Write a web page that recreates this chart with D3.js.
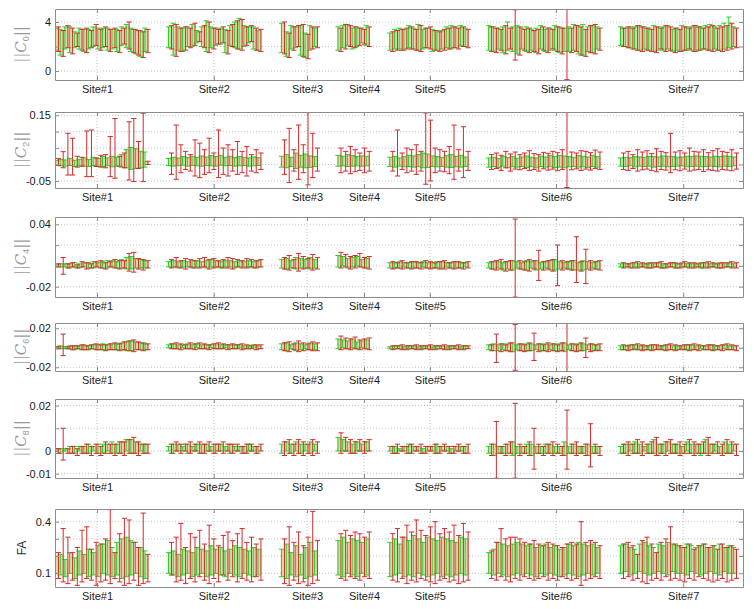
<!DOCTYPE html>
<html><head><meta charset="utf-8">
<script src="https://cdn.jsdelivr.net/npm/d3@7"></script>
<style>body{margin:0;background:#fff}svg{display:block}</style>
</head><body>
<script>
// ---------------- DATA ----------------
const sites = ["Site#1","Site#2","Site#3","Site#4","Site#5","Site#6","Site#7"];
const siteSizes = [20,20,8,7,17,24,25];
const siteTicks = [8.5,33.3,53.1,65.2,79.2,106,133]; // subject-slot positions of site ticks

// ||C0|| (x0.1)
const c0RedHi = [36,33,37,35,31,34,35,33,38,34,36,34,35,33,35,40,34,33,32,34,
 37,38,35,36,35,39,32,37,40,35,34,36,33,38,41,42,36,37,35,34,
 40,31,36,37,38,30,36,36,
 35,38,37,36,35,34,36,
 32,33,34,35,36,34,37,35,36,33,32,34,35,36,35,36,34,
 36,35,34,37,35,50,36,34,35,33,34,36,35,34,36,35,51,35,37,36,34,37,38,35,
 35,36,35,37,36,35,34,36,35,37,36,35,34,36,35,37,36,35,36,37,35,36,37,39,35];
const c0RedLo = [16,12,19,14,20,17,15,19,21,17,20,16,19,15,22,18,15,13,11,15,
 18,12,16,17,19,21,24,19,15,18,22,23,14,20,18,17,21,24,17,16,
 14,11,17,20,12,10,18,19,
 16,18,20,19,21,22,20,
 16,17,17,18,18,17,16,19,18,17,16,17,18,19,18,20,19,
 16,15,17,14,18,9,13,17,15,16,14,17,15,18,16,14,-7,15,16,13,12,15,14,17,
 20,19,18,17,16,17,16,15,18,16,17,15,16,17,18,16,17,18,17,16,17,16,17,18,19];
const c0GreenHi = [35,34,36,36,32,35,34,34,36,35,35,35,34,34,36,38,35,34,33,35,
 36,39,36,35,36,38,33,36,41,36,35,35,34,37,40,43,37,36,36,33,
 39,32,37,36,37,31,37,35,
 36,37,38,35,36,35,37,
 31,34,35,34,37,35,38,34,35,34,33,33,36,37,36,37,35,
 37,36,35,36,40,36,37,35,36,34,35,37,34,35,37,36,35,36,38,37,38,36,37,36,
 36,35,36,36,37,36,35,37,36,36,37,34,35,37,36,36,37,36,37,38,36,37,39,44,36];
const c0GreenLo = [17,13,18,15,19,18,16,18,20,18,19,17,18,16,21,19,16,14,12,16,
 19,13,17,16,20,20,23,20,16,19,21,22,15,21,19,18,20,23,18,17,
 15,12,18,19,13,11,17,20,
 17,19,21,18,20,23,21,
 17,18,18,17,19,18,17,18,19,16,17,18,19,18,19,21,20,
 17,16,18,15,17,16,14,18,16,17,15,18,16,17,17,15,16,16,17,14,13,16,15,18,
 21,20,19,18,17,18,17,16,17,17,18,16,17,16,17,17,16,17,18,17,18,17,18,19,20];

// ||C2|| (x0.001)
const c2RedHi = [18,39,95,80,25,22,102,105,20,28,30,85,140,25,35,130,140,70,156,10,
 35,120,60,40,30,75,65,45,80,35,105,50,60,45,70,40,55,30,45,35,
 75,110,45,120,60,158,95,50,
 50,40,55,45,35,50,40,
 40,105,35,50,45,60,40,157,135,50,45,40,55,120,45,115,40,
 30,35,28,40,32,38,30,35,42,33,30,37,34,40,36,45,158,38,35,42,40,36,44,38,
 35,40,30,45,38,42,33,48,40,36,95,38,42,35,50,40,38,45,36,42,48,40,37,45,35];
const c2RedLo = [-3,-10,-32,-32,-8,-5,-37,-37,-6,-8,-10,-37,-42,-5,-10,-47,-52,-12,-52,0,
 -30,-45,-25,-15,-20,-35,-40,-30,-25,-15,-40,-30,-35,-20,-30,-25,-35,-20,-25,-15,
 -30,-55,-20,-45,-25,-62,-40,-20,
 -25,-20,-28,-22,-18,-25,-20,
 -20,-35,-15,-25,-20,-30,-20,-60,-50,-25,-20,-22,-28,-45,-20,-40,-18,
 -15,-12,-18,-10,-20,-14,-16,-12,-18,-15,-20,-13,-17,-14,-19,-15,-70,-16,-13,-18,-14,-17,-12,-15,
 -15,-18,-12,-20,-16,-14,-18,-22,-15,-17,-25,-16,-19,-14,-20,-17,-15,-21,-16,-18,-20,-15,-17,-19,-14];
const c2GreenHi = [12,15,14,18,13,16,20,15,22,18,24,20,25,22,30,45,52,48,40,38,
 18,22,20,24,21,25,22,26,23,27,24,28,22,25,21,24,22,20,23,21,
 25,30,22,35,28,32,26,24,
 28,25,30,27,24,26,25,
 22,25,20,24,28,26,30,35,32,26,24,22,27,30,25,28,23,
 20,22,18,25,21,24,19,23,26,22,20,25,23,27,24,28,26,24,22,27,25,23,28,24,
 20,22,21,24,23,22,25,24,23,26,25,24,22,23,25,24,26,25,24,23,25,24,26,25,23];
const c2GreenLo = [-2,-4,-5,-3,-6,-4,-5,-6,-3,-5,-6,-4,-7,-5,-8,-10,-15,-12,-10,-8,
 -3,-5,-4,-2,-5,-3,-4,-5,-3,-4,-5,-2,-4,-3,-5,-4,-3,-5,-4,-3,
 -8,-10,-6,-12,-8,-10,-9,-6,
 -5,-4,-6,-5,-4,-5,-4,
 -6,-8,-5,-7,-6,-8,-7,-10,-9,-6,-7,-6,-8,-9,-7,-8,-6,
 -8,-6,-9,-5,-10,-7,-8,-6,-9,-7,-10,-6,-8,-7,-9,-8,-10,-7,-6,-8,-7,-9,-6,-8,
 -5,-6,-4,-7,-5,-6,-5,-8,-6,-5,-7,-6,-5,-4,-7,-6,-5,-7,-6,-5,-6,-7,-5,-6,-4];

// ||C4|| (x0.001)
const c4RedHi = [2,8,2,3,1,4,3,2,4,5,3,4,6,5,5,12,13,7,6,5,
 6,8,5,7,6,5,7,8,6,7,5,6,8,7,6,5,7,6,5,6,
 8,10,6,12,9,7,11,8,
 13,11,9,10,12,8,9,
 4,3,5,3,4,4,3,5,4,3,4,5,3,4,4,3,4,
 4,5,6,4,5,45,5,4,6,5,15,4,5,6,20,5,4,5,28,4,16,5,4,5,
 3,2,3,4,3,2,3,3,4,2,3,3,2,4,3,3,2,3,4,3,2,3,3,4,3];
const c4RedLo = [-1,-8,-2,-1,-2,-1,-3,-2,-1,-2,-3,-1,-2,-3,-2,-5,-6,-3,-4,-2,
 -2,-1,-2,-3,-1,-2,-2,-1,-3,-2,-1,-2,-2,-3,-1,-2,-2,-1,-2,-1,
 -3,-4,-2,-5,-3,-2,-4,-3,
 -2,-1,-3,-2,-1,-2,-3,
 -3,-2,-3,-2,-3,-2,-3,-2,-3,-2,-3,-3,-2,-3,-2,-3,-2,
 -3,-4,-3,-5,-4,-30,-3,-4,-5,-3,-14,-4,-3,-5,-19,-4,-3,-4,-16,-5,-17,-4,-3,-4,
 -2,-1,-2,-2,-1,-2,-2,-1,-2,-2,-1,-2,-2,-1,-2,-2,-1,-2,-2,-1,-2,-2,-1,-2,-2];
const c4GreenHi = [1,2,2,2,3,2,3,3,4,3,4,5,5,4,6,8,9,7,6,5,
 4,5,4,5,4,5,5,4,5,6,5,4,5,5,4,5,4,5,4,5,
 6,7,5,8,7,6,8,6,
 10,9,7,8,9,6,7,
 3,3,4,3,3,4,3,4,3,3,4,4,3,3,4,3,3,
 3,4,4,3,4,5,4,3,5,4,5,3,4,5,6,4,3,4,5,3,5,4,3,4,
 2,2,2,3,2,2,3,2,3,2,2,3,2,3,2,2,2,3,3,2,2,3,2,3,2];
const c4GreenLo = [-1,-1,-1,-2,-1,-2,-1,-2,-2,-1,-2,-2,-1,-2,-2,-3,-3,-2,-2,-2,
 -1,-1,-2,-1,-1,-2,-1,-1,-2,-1,-1,-2,-1,-1,-2,-1,-1,-1,-2,-1,
 -2,-3,-2,-3,-2,-2,-3,-2,
 -1,0,-2,-1,0,-1,-2,
 -2,-2,-2,-1,-2,-2,-2,-1,-2,-2,-2,-2,-1,-2,-2,-2,-1,
 -2,-3,-2,-4,-3,-4,-2,-3,-4,-2,-4,-3,-2,-4,-4,-3,-2,-3,-4,-4,-4,-3,-2,-3,
 -1,-1,-2,-1,-1,-1,-2,-1,-1,-2,-1,-1,-2,-1,-1,-1,-1,-2,-1,-1,-1,-2,-1,-1,-1];

// ||C6|| (x0.001)
const c6RedHi = [1,14,1,2,2,3,2,3,4,3,3,4,5,4,6,7,8,6,5,4,
 4,5,4,3,5,4,5,4,3,4,5,4,3,4,3,4,3,2,3,3,
 5,6,4,7,5,4,6,5,
 12,10,9,11,8,9,10,
 2,2,3,2,2,3,2,2,3,2,2,3,2,2,3,2,2,
 3,14,4,3,5,24,4,3,5,15,4,3,5,4,3,5,25,4,3,5,10,4,3,4,
 3,2,3,4,3,2,3,3,2,3,4,3,2,3,3,4,3,2,3,3,2,3,4,3,2];
const c6RedLo = [-1,-8,-1,-2,-1,-2,-2,-1,-2,-2,-3,-2,-2,-3,-2,-3,-4,-2,-3,-2,
 -1,-1,-2,-1,-1,-2,-1,-1,-2,-1,-1,-1,-2,-1,-1,-2,-1,-1,-2,-1,
 -3,-4,-2,-4,-3,-2,-3,-3,
 -2,-1,-2,-1,-2,-1,-2,
 -2,-1,-2,-2,-1,-2,-2,-1,-2,-2,-1,-2,-2,-1,-2,-2,-1,
 -3,-15,-4,-3,-4,-23,-3,-4,-3,-13,-4,-3,-4,-3,-4,-3,-25,-3,-4,-3,-10,-4,-3,-3,
 -2,-3,-2,-2,-3,-2,-3,-2,-2,-3,-2,-3,-2,-2,-3,-2,-3,-2,-2,-3,-2,-3,-2,-2,-3];
const c6GreenHi = [1,2,1,2,2,2,3,2,3,3,4,3,4,4,5,6,7,6,5,4,
 3,4,3,3,4,3,4,3,3,3,4,3,3,3,3,3,2,2,3,2,
 4,5,3,5,4,3,5,4,
 9,8,7,9,6,7,8,
 1,2,2,1,2,2,1,2,2,1,2,2,1,2,2,1,2,
 3,4,3,4,4,5,3,4,4,4,3,4,4,3,4,4,5,3,4,4,4,3,4,3,
 2,2,3,3,2,2,2,3,2,2,3,2,2,2,3,3,2,2,2,3,2,2,3,2,2];
const c6GreenLo = [-1,-1,-1,-1,-2,-1,-2,-2,-1,-2,-2,-2,-2,-2,-2,-3,-3,-2,-2,-2,
 0,-1,-1,0,-1,-1,0,-1,-1,0,-1,-1,0,-1,-1,0,-1,-1,0,-1,
 -2,-3,-1,-3,-2,-1,-2,-2,
 -1,0,-1,0,-1,0,-1,
 -1,-1,-1,-1,-1,-1,-1,-1,-1,-1,-1,-1,-1,-1,-1,-1,-1,
 -2,-3,-3,-2,-3,-4,-2,-3,-3,-3,-2,-3,-3,-2,-3,-3,-4,-2,-3,-3,-3,-2,-3,-2,
 -2,-2,-2,-1,-2,-2,-2,-2,-1,-2,-2,-2,-2,-1,-2,-2,-2,-1,-2,-2,-2,-2,-1,-2,-2];

// ||C8|| (x0.001)
const c8RedHi = [1,10,1,2,1,2,3,2,3,2,4,3,3,4,4,5,6,4,3,3,
 3,4,3,3,4,3,4,3,4,3,3,4,3,3,3,2,3,3,2,3,
 4,5,3,5,4,3,5,4,
 8,6,5,4,5,4,5,
 2,3,2,2,3,2,3,2,2,3,2,3,2,2,3,2,3,
 3,13,2,3,4,21,3,2,4,10,3,2,3,4,3,2,18,3,4,2,3,12,3,2,
 3,4,3,5,4,3,4,6,3,4,5,3,4,3,5,4,3,4,6,3,4,3,5,4,3];
const c8RedLo = [-1,-4,-1,-1,-2,-1,-1,-2,-1,-2,-1,-1,-2,-1,-2,-1,-1,-2,-1,-1,
 -1,0,-1,0,-1,0,-1,-1,0,-1,0,-1,0,-1,0,-1,-1,0,-1,0,
 -2,-1,-2,-1,-2,-1,-2,-1,
 -1,0,-1,-1,0,-1,0,
 -1,-1,0,-1,-1,0,-1,-1,0,-1,-1,0,-1,-1,0,-1,-1,
 -2,-12,-1,-2,-1,-12,-2,-1,-2,-8,-1,-2,-1,-2,-1,-2,-8,-1,-2,-1,-2,-7,-1,-2,
 -1,-2,-1,-1,-2,-1,-1,-2,-1,-2,-1,-1,-2,-1,-1,-2,-1,-1,-2,-1,-1,-2,-1,-1,-2];
const c8GreenHi = [1,1,1,2,2,2,2,3,2,3,3,3,4,3,4,5,5,4,3,3,
 2,3,3,2,3,2,3,3,3,2,3,3,2,3,2,2,2,3,2,2,
 3,4,3,4,3,3,4,3,
 6,5,4,3,4,3,4,
 2,2,1,2,3,2,2,1,2,2,3,2,2,1,2,2,2,
 2,3,2,2,3,4,2,2,3,3,2,2,3,3,2,2,4,2,3,2,2,3,2,2,
 2,3,3,4,3,2,3,5,3,3,4,3,3,2,4,3,3,3,5,3,3,2,4,3,3];
const c8GreenLo = [0,-1,0,-1,-1,0,-1,-1,0,-1,-1,0,-1,-1,-1,0,-1,-1,0,-1,
 0,-1,0,0,-1,0,0,-1,0,0,-1,0,0,-1,0,0,-1,0,0,-1,
 -1,0,-1,0,-1,0,-1,0,
 0,0,0,-1,0,0,0,
 0,-1,0,0,-1,0,0,-1,0,0,-1,0,0,-1,0,0,-1,
 -1,-2,-1,-1,-1,-2,-1,-1,-1,-2,-1,-1,-1,-1,-1,-1,-2,-1,-1,-1,-1,-2,-1,-1,
 -1,-1,0,-1,-1,0,-1,-1,-2,-1,0,-1,-1,-1,0,-1,-1,-2,-1,-1,0,-1,-1,-1,0];

// FA (x0.01)
const faRedHi = [22,36,31,22,25,35,37,24,28,27,30,47,22,33,42,41,28,25,45,21,
 28,31,39,25,33,31,35,27,38,30,26,32,34,29,33,36,28,31,27,30,
 30,37,28,34,26,31,46,29,
 33,35,32,34,33,31,34,
 33,36,31,38,34,41,35,32,37,40,33,36,34,38,32,39,34,
 23,28,36,30,31,31,30,28,27,29,27,26,28,27,26,25,27,28,27,40,28,29,28,26,
 27,28,26,21,29,31,27,22,28,30,37,27,26,25,27,24,26,27,25,26,24,27,25,26,24];
const faRedLo = [7,5,4,6,3,5,7,6,3,5,6,4,7,5,3,4,6,3,4,5,
 9,5,6,4,7,5,8,6,4,7,5,9,6,8,5,7,6,5,8,6,
 4,3,6,4,5,3,4,6,
 7,6,8,7,6,8,7,
 6,5,7,4,6,5,7,6,5,4,6,7,5,6,4,5,6,
 7,6,8,6,5,7,6,8,7,6,7,8,6,7,6,8,7,6,7,3,6,7,8,7,
 7,8,6,7,5,4,6,7,6,8,6,7,6,5,7,6,8,7,6,5,6,7,5,6,7];
const faGreenHi = [20,21,18,22,19,23,21,24,22,26,27,29,25,28,30,31,29,28,25,23,
 22,23,21,24,23,22,25,24,23,26,24,25,23,24,26,25,24,23,25,24,
 24,27,22,26,21,25,28,23,
 29,31,28,30,29,28,30,
 28,30,27,31,29,32,30,28,31,30,29,31,30,29,28,31,30,
 22,24,28,27,26,27,28,27,26,27,25,26,27,25,26,24,25,27,26,28,27,26,27,25,
 26,27,25,24,27,28,26,25,27,26,28,27,26,25,27,26,25,26,27,25,26,27,25,26,25];
const faGreenLo = [10,9,8,10,7,9,10,8,9,8,10,9,8,9,7,8,9,10,8,7,
 10,9,8,9,10,8,9,10,8,9,10,9,8,10,9,8,10,9,8,9,
 8,7,9,8,9,7,8,9,
 9,8,10,9,8,10,9,
 8,9,10,8,9,8,10,9,8,9,10,8,9,8,9,10,9,
 10,9,10,9,8,9,10,9,10,9,8,10,9,10,9,8,9,10,9,8,9,10,9,10,
 10,11,9,10,11,10,9,10,11,10,9,11,10,10,9,11,10,9,10,11,10,9,11,10,10];

// Axis tick values (in the stored units) and their labels
const c0Ticks = [0,20,40],        c0TickLabels = ["0","","4"];
const c2Ticks = [-50,0,50,100,150], c2TickLabels = ["-0.05","","","","0.15"];
const c4Ticks = [-20,0,20,40],    c4TickLabels = ["-0.02","","","0.04"];
const c6Ticks = [-20,0,20],       c6TickLabels = ["-0.02","","0.02"];
const c8Ticks = [-10,0,10,20],    c8TickLabels = ["-0.01","0","","0.02"];
const faTicks = [10,20,30,40],    faTickLabels = ["0.1","","","0.4"];
const yDomains = [[-7.3,50.6],[-71.5,159.8],[-29.9,47],[-23.8,25.4],[-11.9,22.9],[2.03,47.38]];
const ySubs = ["0","2","4","6","8",null];

// ---------------- LAYOUT ----------------
const W = 754, H = 609, L = 55, R = 743;
const boxes = [{t:9,b:80},{t:112,b:188},{t:217,b:297},{t:323,b:371},{t:399,b:478},{t:509,b:587}];
const panels = [
 {gLo:c0GreenLo,gHi:c0GreenHi,rLo:c0RedLo,rHi:c0RedHi,ticks:c0Ticks,labels:c0TickLabels},
 {gLo:c2GreenLo,gHi:c2GreenHi,rLo:c2RedLo,rHi:c2RedHi,ticks:c2Ticks,labels:c2TickLabels},
 {gLo:c4GreenLo,gHi:c4GreenHi,rLo:c4RedLo,rHi:c4RedHi,ticks:c4Ticks,labels:c4TickLabels},
 {gLo:c6GreenLo,gHi:c6GreenHi,rLo:c6RedLo,rHi:c6RedHi,ticks:c6Ticks,labels:c6TickLabels},
 {gLo:c8GreenLo,gHi:c8GreenHi,rLo:c8RedLo,rHi:c8RedHi,ticks:c8Ticks,labels:c8TickLabels},
 {gLo:faGreenLo,gHi:faGreenHi,rLo:faRedLo,rHi:faRedHi,ticks:faTicks,labels:faTickLabels}
];

const slotGap = 4;
const slots = [];
{ let acc = 0; siteSizes.forEach(n => { for (let j=0;j<n;j++) slots.push(acc+j); acc += n + slotGap; }); }

const x = d3.scaleLinear().domain([-0.42,145.7]).range([L,R]);
const svg = d3.select("body").append("svg").attr("width",W).attr("height",H)
  .style("font-family","'Liberation Sans', Arial, sans-serif");

const GREEN = "#22d422", RED = "#d42a2a", FILL = "#d6d3a0", AX = "#8c8c8c", GRID = "#c4c4c4";
const dg = -1.5, dr = 1.5, cap = 2.6;

panels.forEach((p, pi) => {
  const bx = boxes[pi];
  const y = d3.scaleLinear().domain(yDomains[pi]).range([bx.b, bx.t]);
  const g = svg.append("g");
  const cid = "clip" + pi;
  svg.append("clipPath").attr("id", cid).append("rect")
    .attr("x", L).attr("y", bx.t).attr("width", R - L).attr("height", bx.b - bx.t);

  // grid
  g.append("g").selectAll("line").data(p.ticks).join("line")
    .attr("x1", L).attr("x2", R).attr("y1", d => y(d)).attr("y2", d => y(d))
    .attr("stroke", GRID).attr("stroke-dasharray", "1,2");
  g.append("g").selectAll("line").data(siteTicks).join("line")
    .attr("x1", d => x(d)).attr("x2", d => x(d)).attr("y1", bx.t).attr("y2", bx.b)
    .attr("stroke", GRID).attr("stroke-dasharray", "1,2");

  const rows = slots.map((s, i) => ({s, gl:p.gLo[i], gh:p.gHi[i], rl:p.rLo[i], rh:p.rHi[i]}));
  const plot = g.append("g").attr("clip-path", `url(#${cid})`);

  // shaded band between the paired bars
  plot.append("g").selectAll("rect").data(rows).join("rect")
    .attr("x", d => x(d.s) - 2.2).attr("width", 4.4)
    .attr("y", d => y(Math.min(d.gh, d.rh)))
    .attr("height", d => Math.max(0, y(Math.max(d.gl, d.rl)) - y(Math.min(d.gh, d.rh))))
    .attr("fill", FILL).attr("opacity", 0.9);

  const barPath = (lo, hi, off) => d => {
    const cx = x(d.s) + off, y0 = y(d[lo]), y1 = y(d[hi]);
    return `M${cx},${y0}V${y1}M${cx-cap},${y0}H${cx+cap}M${cx-cap},${y1}H${cx+cap}`;
  };
  plot.append("g").selectAll("path").data(rows).join("path")
    .attr("d", barPath("gl","gh",dg)).attr("stroke", GREEN).attr("fill","none").attr("stroke-width",1);
  plot.append("g").selectAll("path").data(rows).join("path")
    .attr("d", barPath("rl","rh",dr)).attr("stroke", RED).attr("fill","none").attr("stroke-width",1);

  // axes
  const fmt = (d,i) => p.labels[i];
  const la = g.append("g").attr("transform", `translate(${L},0)`)
    .call(d3.axisLeft(y).tickValues(p.ticks).tickFormat(fmt).tickSizeInner(-4).tickSizeOuter(0).tickPadding(4));
  const ra = g.append("g").attr("transform", `translate(${R},0)`)
    .call(d3.axisRight(y).tickValues(p.ticks).tickFormat("").tickSizeInner(-4).tickSizeOuter(0));
  const ba = g.append("g").attr("transform", `translate(0,${bx.b})`)
    .call(d3.axisBottom(x).tickValues(siteTicks).tickFormat((d,i) => sites[i]).tickSizeInner(-4).tickSizeOuter(0).tickPadding(5));
  const ta = g.append("g").attr("transform", `translate(0,${bx.t})`)
    .call(d3.axisTop(x).tickValues(siteTicks).tickFormat("").tickSizeInner(-4).tickSizeOuter(0));
  [la, ra, ba, ta].forEach(a => {
    a.selectAll("path,line").attr("stroke", AX);
    a.selectAll("text").attr("fill", "#1a1a1a").attr("font-size", 11);
  });

  // y label
  const cy = (bx.t + bx.b) / 2;
  if (ySubs[pi] !== null) {
    const t = svg.append("text").attr("transform", `translate(26,${cy}) rotate(-90)`)
      .attr("text-anchor", "middle").attr("fill", "#9a9a9a").attr("font-size", 15);
    t.append("tspan").attr("font-family", "DejaVu Sans").attr("font-weight", 300).text("||");
    t.append("tspan").attr("font-family", "DejaVu Serif").attr("font-style", "italic").text("C");
    t.append("tspan").attr("font-size", 9).attr("dy", 3).text(ySubs[pi]);
    t.append("tspan").attr("font-family", "DejaVu Sans").attr("dy", -3).text("||");
  } else {
    svg.append("text").attr("transform", `translate(26,${cy}) rotate(-90)`)
      .attr("text-anchor", "middle").attr("fill", "#333").attr("font-size", 12).text("FA");
  }
});
</script>
</body></html>
